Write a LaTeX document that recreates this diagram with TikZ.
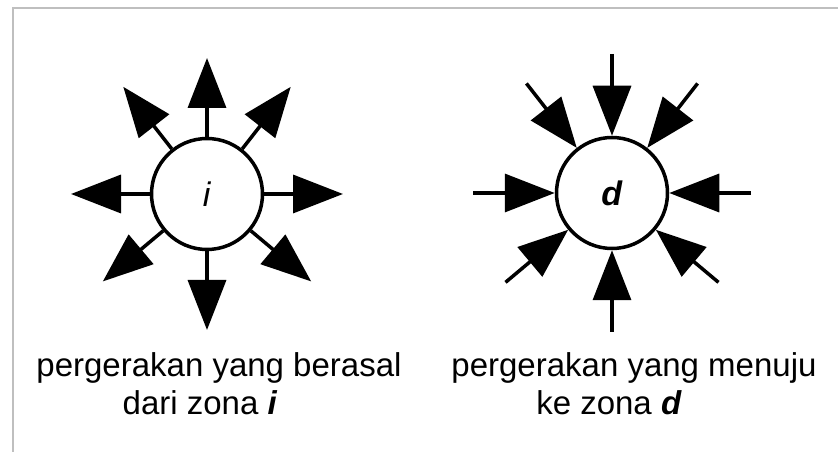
\documentclass[tikz,border=0pt]{standalone}
\usepackage{fontspec}
\setmainfont{Liberation Sans}
\usetikzlibrary{arrows.meta,calc,positioning}

\begin{document}
\begin{tikzpicture}[x=1pt,y=1pt,
  zone/.style={circle,draw,line width=3.5pt,minimum size=111pt,inner sep=0pt,
    font=\fontsize{34}{38}\selectfont},
  flow/.style={line width=3.5pt,-{Triangle[length=50pt,width=38pt]}},
  caption/.style={anchor=base,inner sep=0pt,font=\fontsize{33}{38}\selectfont}]
  \useasboundingbox (0,0) rectangle (838,452);
  % bingkai
  \draw[black!25,line width=2pt] (13,0) -- (13,444) -- (838,444);
  % zona asal
  \node[zone] (zi) at (207,258) {\textit{i}};
  \foreach \a in {0,52,90,128,180,220,270,320}{
    \coordinate (oi\a) at ($(zi.center)+(\a:136)$);
    \draw[flow] (zi.\a) -- (oi\a);
  }
  % zona tujuan
  \node[zone] (zd) at (612,259) {\textbf{\textit{d}}};
  \foreach \a in {0,52,90,128,180,220,270,320}{
    \coordinate (od\a) at ($(zd.center)+(\a:139)$);
    \draw[flow] (od\a) -- (zd.\a);
  }
  % keterangan
  \node[caption] (capi1) at (219,75) {pergerakan yang berasal};
  \node[caption] (capi2) at (200,37) {dari zona \textbf{\textit{i}}};
  \node[caption] (capd1) at (634,75) {pergerakan yang menuju};
  \node[caption] (capd2) at (609,37) {ke zona \textbf{\textit{d}}};
\end{tikzpicture}
\end{document}
